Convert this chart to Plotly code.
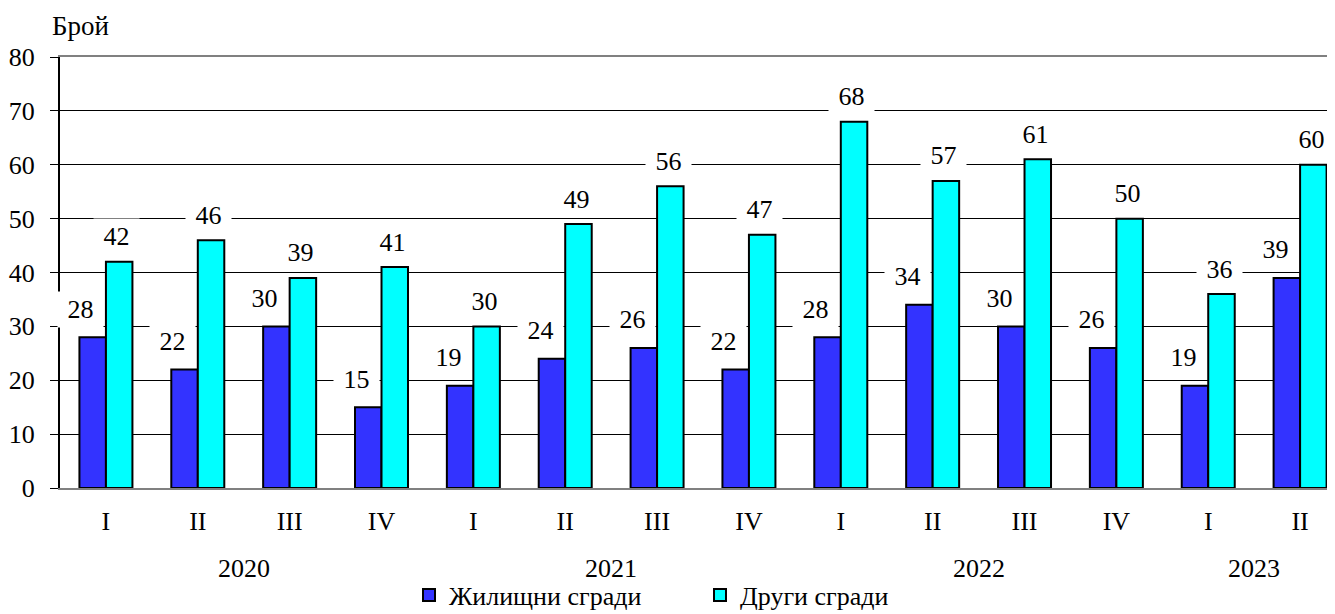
import plotly.graph_objects as go

quarters = ["I", "II", "III", "IV", "I", "II", "III", "IV", "I", "II", "III", "IV", "I", "II"]
year_of = ["2020"] * 4 + ["2021"] * 4 + ["2022"] * 4 + ["2023"] * 2
residential = [28, 22, 30, 15, 19, 24, 26, 22, 28, 34, 30, 26, 19, 39]
other = [42, 46, 39, 41, 30, 49, 56, 47, 68, 57, 61, 50, 36, 60]
series_names = ["Жилищни сгради", "Други сгради"]
y_title = "Брой"

FONT = "Liberation Serif"
FS = 26
BLUE = "#3333FF"
CYAN = "#00FFFF"

# page has an 8px body margin; figure fills the rest of the window
W, H = 1327, 606
ML, MR, MT, MB = 52, 0, 49, 126
PW, PH = W - ML - MR, H - MT - MB

xs = list(range(len(quarters)))

fig = go.Figure()
fig.add_trace(go.Bar(x=xs, y=residential, name=series_names[0],
                     marker=dict(color=BLUE, line=dict(color="black", width=2))))
fig.add_trace(go.Bar(x=xs, y=other, name=series_names[1],
                     marker=dict(color=CYAN, line=dict(color="black", width=2))))

ann = []
nb = "\u00a0"
tf = dict(family=FONT, size=FS, color="black")
for i, v in enumerate(residential):
    ann.append(dict(x=xs[i], y=v, xref="x", yref="y", text=nb + str(v) + nb,
                    showarrow=False, xshift=-25, yshift=28, bgcolor="white",
                    borderpad=3, font=tf))
for i, v in enumerate(other):
    ann.append(dict(x=xs[i], y=v, xref="x", yref="y", text=nb + str(v) + nb,
                    showarrow=False, xshift=11, yshift=25, bgcolor="white",
                    borderpad=3, font=tf))

# year labels centred under their quarters
years = []
for y in year_of:
    if y not in years:
        years.append(y)
for yr in years:
    idx = [i for i, y in enumerate(year_of) if y == yr]
    ann.append(dict(x=sum(idx) / len(idx), y=-80 / PH, xref="x", yref="paper",
                    yanchor="middle", text=yr, showarrow=False, font=tf))

ann.append(dict(x=(42 - ML) / PW, y=(MT + PH - 18) / PH, xref="paper", yref="paper",
                text=y_title, showarrow=False, xanchor="left", yanchor="middle",
                font=dict(family=FONT, size=27, color="black")))

fig.update_layout(
    width=W, height=H, autosize=False,
    margin=dict(l=ML, r=MR, t=MT, b=MB, autoexpand=False),
    paper_bgcolor="white", plot_bgcolor="white",
    barmode="group", bargap=0.423, bargroupgap=0,
    font=tf,
    showlegend=True,
    legend=dict(orientation="h", xref="container", yref="container",
                x=401 / W, xanchor="left", y=19 / H, yanchor="middle",
                font=tf, itemwidth=30, entrywidth=246, entrywidthmode="pixels",
                traceorder="normal", bgcolor="rgba(0,0,0,0)"),
    annotations=ann,
)

fig.update_xaxes(range=[-0.5, 13.38], tickvals=xs, ticktext=quarters,
                 showgrid=False, zeroline=False, ticks="", automargin=False,
                 showline=True, linecolor="#808080", linewidth=2, mirror=True,
                 ticklabelstandoff=9, tickfont=tf)
fig.update_yaxes(range=[0, 80], dtick=10, showgrid=True, gridcolor="black", gridwidth=1,
                 zeroline=False, showline=True, linecolor="black", linewidth=2,
                 ticks="outside", ticklen=8, tickwidth=1, tickcolor="black",
                 ticklabelstandoff=10, automargin=False, tickfont=tf)

fig.write_html("out.html")
